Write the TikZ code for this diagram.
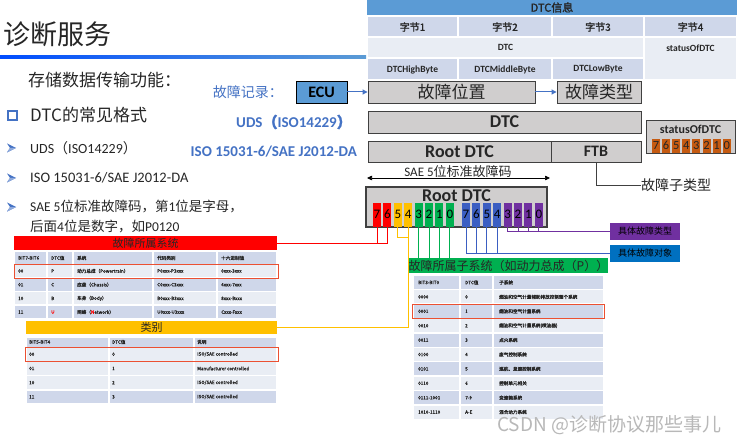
\documentclass[tikz,border=0pt]{standalone}
\usepackage{fontspec}
\setmainfont{Carlito}
\newfontfamily\cjk{Noto Sans CJK SC}
\newfontfamily\cjkb{Noto Sans CJK SC}[FakeBold=1.6]
\usetikzlibrary{arrows.meta}
\definecolor{tblue}{RGB}{68,114,196}
\definecolor{hblue}{RGB}{91,155,213}
\definecolor{boxgray}{RGB}{208,206,206}
\definecolor{boxline}{RGB}{64,64,64}
\definecolor{tabDark}{RGB}{207,215,234}
\definecolor{tabLight}{RGB}{233,237,244}
\definecolor{bitred}{RGB}{255,0,0}
\definecolor{bityel}{RGB}{255,192,0}
\definecolor{bitgrn}{RGB}{0,176,80}
\definecolor{bitblu}{RGB}{59,94,194}
\definecolor{bitpur}{RGB}{112,48,160}
\definecolor{bitora}{RGB}{197,90,17}
\definecolor{objblue}{RGB}{0,112,192}
\definecolor{txt}{RGB}{38,38,38}
\definecolor{hlred}{RGB}{235,80,50}
\newcommand\isosae{ISO/SAE controlled}
\begin{document}
\begin{tikzpicture}[x=1pt,y=-1pt,
  gbox/.style={draw=boxline,fill=boxgray,line width=0.9pt,inner sep=0pt,text=txt},
  bitbox/.style={minimum width=8pt,minimum height=24pt,inner sep=0pt,text=black,font=\fontsize{13}{13}\selectfont},
  sbit/.style={minimum width=8pt,minimum height=14pt,inner sep=0pt,text=txt,font=\fontsize{12.5}{12.5}\selectfont},
  cell/.style={anchor=west,inner sep=0pt,text=txt,font=\fontsize{4.6}{5}\selectfont\cjkb},
  ttxt/.style={inner sep=0pt,text=txt,font=\fontsize{9.5}{10}\selectfont\bfseries},
  lab/.style={inner sep=0pt,text=tblue,font=\fontsize{15}{15}\selectfont\bfseries},
  item/.style={anchor=west,inner sep=0pt,text=txt},
  conn/.style={line width=1pt}]
\useasboundingbox (0,0) rectangle (742,441);
\fill[white] (0,0) rectangle (742,441);

% title
\node[item,font=\fontsize{27}{27}\selectfont\cjk] (title) at (3,34) {诊断服务};
\shade[left color=blue!70!cyan, middle color={rgb,255:red,196;green,90;blue,200}, right color=hblue] (0,55.5) rectangle (366,58.5);

% top table
\fill[hblue] (367,0) rectangle (737,15);
\node[ttxt,font=\fontsize{11}{11}\selectfont\cjkb] (tinfo) at (552,7.5) {DTC信息};
\foreach \xa/\xb/\k in {367/458/1,458/552/2,552/644/3,644/737/4}{
  \fill[tabDark] (\xa+0.8,17.5) rectangle (\xb-0.8,36);
  \node[ttxt,font=\fontsize{10}{10}\selectfont\cjkb] (byte\k) at ({(\xa+\xb)/2},27) {字节\k};
}
\fill[tabLight] (367.8,38) rectangle (643.2,57);
\fill[tabLight] (644.8,38) rectangle (736.2,79);
\node[ttxt] (tdtc) at (505.5,47.5) {DTC};
\node[ttxt] (tstat) at (690.5,48) {statusOfDTC};
\foreach \xa/\xb/\t [count=\k] in {367/458/DTCHighByte,458/552/DTCMiddleByte,552/644/DTCLowByte}{
  \fill[tabDark] (\xa+0.8,59) rectangle (\xb-0.8,79);
  \node[ttxt] (tb\k) at ({(\xa+\xb)/2},69.5) {\t};
}

% left text
\node[item,font=\fontsize{17}{17}\selectfont\cjk] (store) at (28,80) {存储数据传输功能：};
\draw[tblue,line width=2pt] (8,111.5) rectangle (16.5,120);
\node[item,font=\fontsize{17}{17}\selectfont\cjk] (fmt) at (30,115) {DTC的常见格式};
\foreach \yb in {148,178,207}{
  \fill[tblue] (7,\yb-4.5) -- (16,\yb) -- (7,\yb+4.5) -- (10,\yb) -- cycle;
  \fill[tblue!60] (10,\yb) -- (16,\yb) -- (7,\yb+4.5) -- cycle;
}
\node[item,font=\fontsize{14}{14}\selectfont] (it1) at (30,148) {UDS{\cjk （}ISO14229{\cjk ）}};
\node[item,font=\fontsize{14.5}{14.5}\selectfont] (it2) at (30,178) {ISO 15031-6/SAE J2012-DA};
\node[item,font=\fontsize{13.5}{13.5}\selectfont] (it3) at (30,207) {SAE 5{\cjk 位标准故障码，第}1{\cjk 位是字母，}};
\node[item,font=\fontsize{13.5}{13.5}\selectfont] (it4) at (30,227) {{\cjk 后面}4{\cjk 位是数字，如}P0120};

% blue labels
\node[lab,anchor=east,font=\fontsize{14}{14}\selectfont\cjk] (rec) at (283,92) {故障记录：};
\node[lab,anchor=east] (udsl) at (352,122) {UDS{\cjkb （}ISO14229{\cjkb ）}};
\node[lab,anchor=east] (isol) at (357,152) {ISO 15031-6/SAE J2012-DA};

% record boxes
\node[draw=black,fill=hblue,line width=0.9pt,minimum width=51pt,minimum height=22pt,inner sep=0pt,font=\fontsize{16}{16}\selectfont\bfseries] (ecu) at (321.5,92) {ECU};
\node[gbox,minimum width=167pt,minimum height=22pt,font=\fontsize{17}{17}\selectfont\cjk] (pos) at (451.5,92) {故障位置};
\node[gbox,minimum width=84pt,minimum height=22pt,font=\fontsize{17}{17}\selectfont\cjk] (ftype) at (599,92) {故障类型};
\draw[tblue,line width=1pt,-{Triangle[length=5pt,width=5pt]}] (ecu) -- (pos);
\draw[tblue,line width=1pt,-{Triangle[length=5pt,width=5pt]}] (pos) -- (ftype);
\node[gbox,minimum width=273pt,minimum height=22pt,font=\fontsize{18}{18}\selectfont\bfseries] (dtc) at (504.5,122) {DTC};
\node[gbox,minimum width=183pt,minimum height=21pt,font=\fontsize{18}{18}\selectfont\bfseries] (root) at (459.5,151.5) {Root DTC};
\node[gbox,minimum width=90pt,minimum height=21pt,font=\fontsize{16}{16}\selectfont\bfseries] (ftb) at (596,151.5) {FTB};

% statusOfDTC box
\node[gbox,minimum width=89pt,minimum height=33pt] (sbox) at (690.5,136.5) {};
\node[inner sep=0pt,text=txt,font=\fontsize{12}{12}\selectfont\bfseries] (stitle) at (690.5,129) {statusOfDTC};
\foreach \i [count=\k] in {7,6,5,4,3,2,1,0}{
  \node[sbit,fill=bitora] (sb\k) at ({656+10.1*(\k-1)},145.6) {\i};
}
\node[item,font=\fontsize{14}{14}\selectfont\cjk] (subt) at (641,185) {故障子类型};
\draw[line width=0.9pt,boxline] (ftb.south) |- (subt.west);

% SAE arrow
\coordinate (saeL) at (367,178);
\coordinate (saeR) at (550,178);
\draw[line width=0.7pt,{Triangle[length=5pt,width=4.5pt]}-{Triangle[length=5pt,width=4.5pt]}] (saeL) -- (saeR);
\node[inner sep=0pt,text=txt,font=\fontsize{13}{13}\selectfont] (saet) at (458,171.5) {SAE 5{\cjk 位标准故障码}};

% Root DTC big box
\node[gbox,line width=1.2pt,minimum width=181pt,minimum height=40pt] (rbox) at (456.5,207) {};
\node[inner sep=0pt,text=txt,font=\fontsize{18}{18}\selectfont\bfseries] (rtitle) at (456.5,196) {Root DTC};
\foreach \i/\lab/\col [count=\k] in {
 0/7/bitred,1/6/bitred,2/5/bityel,3/4/bityel,4/3/bitgrn,5/2/bitgrn,6/1/bitgrn,7/0/bitgrn,
 8/7/bitblu,9/6/bitblu,10/5/bitblu,11/4/bitblu,12/3/bitpur,13/2/bitpur,14/1/bitpur,15/0/bitpur}{
  \pgfmathsetmacro\bx{\i<8 ? 377+10.4*\i : 466+10.4*(\i-8)}
  \node[bitbox,fill=\col] (rb\k) at (\bx,214.6) {\lab};
}

% side boxes
\node[fill=bitpur,minimum width=70pt,minimum height=17pt,inner sep=0pt,text=black,font=\fontsize{9}{9}\selectfont\cjk] (typebox) at (645,231.5) {具体故障类型};
\node[fill=objblue,minimum width=70pt,minimum height=17pt,inner sep=0pt,text=black,font=\fontsize{9}{9}\selectfont\cjk] (objbox) at (645,253.5) {具体故障对象};

% table headers
\node[fill=bitred,minimum width=263pt,minimum height=14pt,inner sep=0pt,text=txt,font=\fontsize{11}{11}\selectfont\cjk] (syshead) at (145.5,243) {故障所属系统};
\node[fill=bityel,minimum width=251pt,minimum height=13pt,inner sep=0pt,text=txt,font=\fontsize{11}{11}\selectfont\cjk] (cathead) at (151.5,327.5) {类别};
\node[fill=bitgrn,minimum width=191pt,minimum height=15pt,inner sep=0pt,text=txt,font=\fontsize{12}{12}\selectfont\cjk] (subhead) at (508.5,265.5) {故障所属子系统（如动力总成（P））};

% connectors
\draw[conn,bitred] (rb1.south) |- (syshead.east);
\draw[conn,bitred] (rb2.south) |- (syshead.east);
\coordinate (yj) at (408.2,237);
\draw[conn,bityel] (rb3.south) |- (yj);
\draw[conn,bityel] (rb4.south) |- (cathead.east);
\foreach \k in {5,6,7,8}{\draw[conn,bitgrn] (rb\k.south) -- (rb\k.south |- subhead.north);}
\foreach \k in {9,10,11,12}{\draw[conn,bitblu] (rb\k.south) |- (objbox.west);}
\foreach \k in {13,14,15,16}{\draw[conn,bitpur] (rb\k.south) |- (typebox.west);}

% system table
\foreach \y/\fc/\a/\b/\c/\d/\e [count=\r] in {
 252/tabDark/BIT7-BIT6/DTC值/系统/代码类别/十六进制值,
 265/tabLight/00/P/{动力总成（Powertrain）}/P0xxx-P3xxx/0xxx-3xxx,
 278.7/tabDark/01/C/{底盘（Chassis）}/C0xxx-C3xxx/4xxx-7xxx,
 292.4/tabLight/10/B/{车身（Body）}/B0xxx-B3xxx/8xxx-Bxxx,
 306.1/tabDark/11/{\textcolor{red}{U}}/{网络（\textcolor{red}{N}etwork）}/U0xxx-U3xxx/Cxxx-Fxxx}{
  \foreach \xa/\xb in {14/47,47/73,73/153,153/217,217/277}{\fill[\fc] (\xa+0.75,\y) rectangle (\xb-0.75,\y+12);}
  \node[cell] (sa\r) at (18,\y+6) {\a};
  \node[cell] (sb\r) at (51,\y+6) {\b};
  \node[cell] (sc\r) at (77,\y+6) {\c};
  \node[cell] (sd\r) at (157,\y+6) {\d};
  \node[cell] (se\r) at (221,\y+6) {\e};
}
\draw[hlred,line width=0.9pt] (14,264) rectangle (278,278);

% category table
\foreach \y/\h/\fc/\a/\b/\c [count=\r] in {
 337.5/9/tabDark/BIT5-BIT4/DTC值/说明,
 348/12.5/tabLight/00/0/\isosae,
 362.2/12.5/tabLight/01/1/Manufacturer controlled,
 376.4/12.5/tabLight/10/2/\isosae,
 390.6/12.5/tabDark/11/3/\isosae}{
  \foreach \xa/\xb in {26/109,109/194,194/277}{\fill[\fc] (\xa+0.75,\y) rectangle (\xb-0.75,\y+\h);}
  \node[cell] (ca\r) at (29,\y+\h/2) {\a};
  \node[cell] (cb\r) at (112,\y+\h/2) {\b};
  \node[cell] (cc\r) at (197,\y+\h/2) {\c};
}
\draw[hlred,line width=0.9pt] (25,347.5) rectangle (278,361);

% subsystem table
\foreach \a/\b/\c [count=\r from 0] in {
 BIT3-BIT0/DTC值/子系统,
 0000/0/燃油和空气计量辅助排放控制整个系统,
 0001/1/燃油和空气计量系统,
 0010/2/燃油和空气计量系统(喷油器),
 0011/3/点火系统,
 0100/4/废气控制系统,
 0101/5/巡航、怠速控制系统,
 0110/6/控制单元相关,
 0111-1001/7-9/变速箱系统,
 1010-1110/A-E/混合动力系统}{
  \pgfmathsetmacro\yy{276+14.4*\r}
  \pgfmathparse{mod(\r,2)==0 ? "tabDark" : "tabLight"}
  \edef\fc{\pgfmathresult}
  \foreach \xa/\xb in {413/460,460/493,493/604}{\fill[\fc] (\xa+0.75,\yy) rectangle (\xb-0.75,\yy+13);}
  \node[cell] (ua\r) at (418,\yy+6.5) {\a};
  \node[cell] (ub\r) at (465,\yy+6.5) {\b};
  \node[cell] (uc\r) at (499,\yy+6.5) {\c};
}
\draw[hlred,line width=0.9pt] (412.5,304) rectangle (604.5,318);

% watermark
\node[item,text=black!28,font=\fontsize{19}{19}\selectfont\cjk] (wm) at (497,425) {CSDN @诊断协议那些事儿};
\end{tikzpicture}
\end{document}
